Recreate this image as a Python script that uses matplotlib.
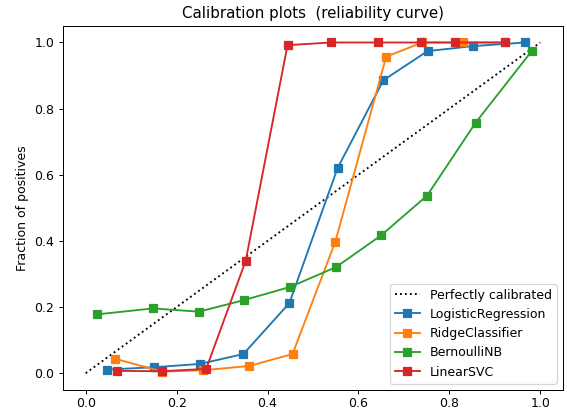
import numpy as np
import matplotlib.pyplot as plt

# mean predicted value (x) and fraction of positives (y)
lr_x = [0.047, 0.150, 0.251, 0.347, 0.448, 0.554, 0.655, 0.752, 0.852, 0.966]
lr_y = [0.011, 0.018, 0.028, 0.058, 0.212, 0.620, 0.886, 0.974, 0.989, 1.000]

rc_x = [0.064, 0.168, 0.259, 0.360, 0.455, 0.549, 0.661, 0.740, 0.831, 0.922]
rc_y = [0.044, 0.005, 0.009, 0.022, 0.058, 0.397, 0.957, 1.000, 1.000, 1.000]

nb_x = [0.026, 0.148, 0.249, 0.348, 0.450, 0.551, 0.650, 0.751, 0.858, 0.981]
nb_y = [0.178, 0.196, 0.186, 0.221, 0.261, 0.321, 0.417, 0.537, 0.758, 0.974]

svc_x = [0.069, 0.167, 0.265, 0.352, 0.444, 0.540, 0.643, 0.738, 0.812, 0.923]
svc_y = [0.007, 0.006, 0.013, 0.340, 0.992, 1.000, 1.000, 1.000, 1.000, 1.000]

fig = plt.figure(figsize=(567 / 90, 412 / 90), dpi=90)
ax = fig.add_axes([0.111, 0.054, 0.882, 0.883])

ax.plot([0, 1], [0, 1], "k:", label="Perfectly calibrated")
ax.plot(lr_x, lr_y, "s-", ms=6.5, label="LogisticRegression")
ax.plot(rc_x, rc_y, "s-", ms=6.5, label="RidgeClassifier")
ax.plot(nb_x, nb_y, "s-", ms=6.5, label="BernoulliNB")
ax.plot(svc_x, svc_y, "s-", ms=6.5, label="LinearSVC")

ax.set_ylabel("Fraction of positives")
ax.set_ylim([-0.05, 1.05])
ax.tick_params(axis="x", pad=2.5)
ax.legend(loc="lower right")
ax.set_title("Calibration plots  (reliability curve)")

plt.savefig("out.png", dpi=90)
